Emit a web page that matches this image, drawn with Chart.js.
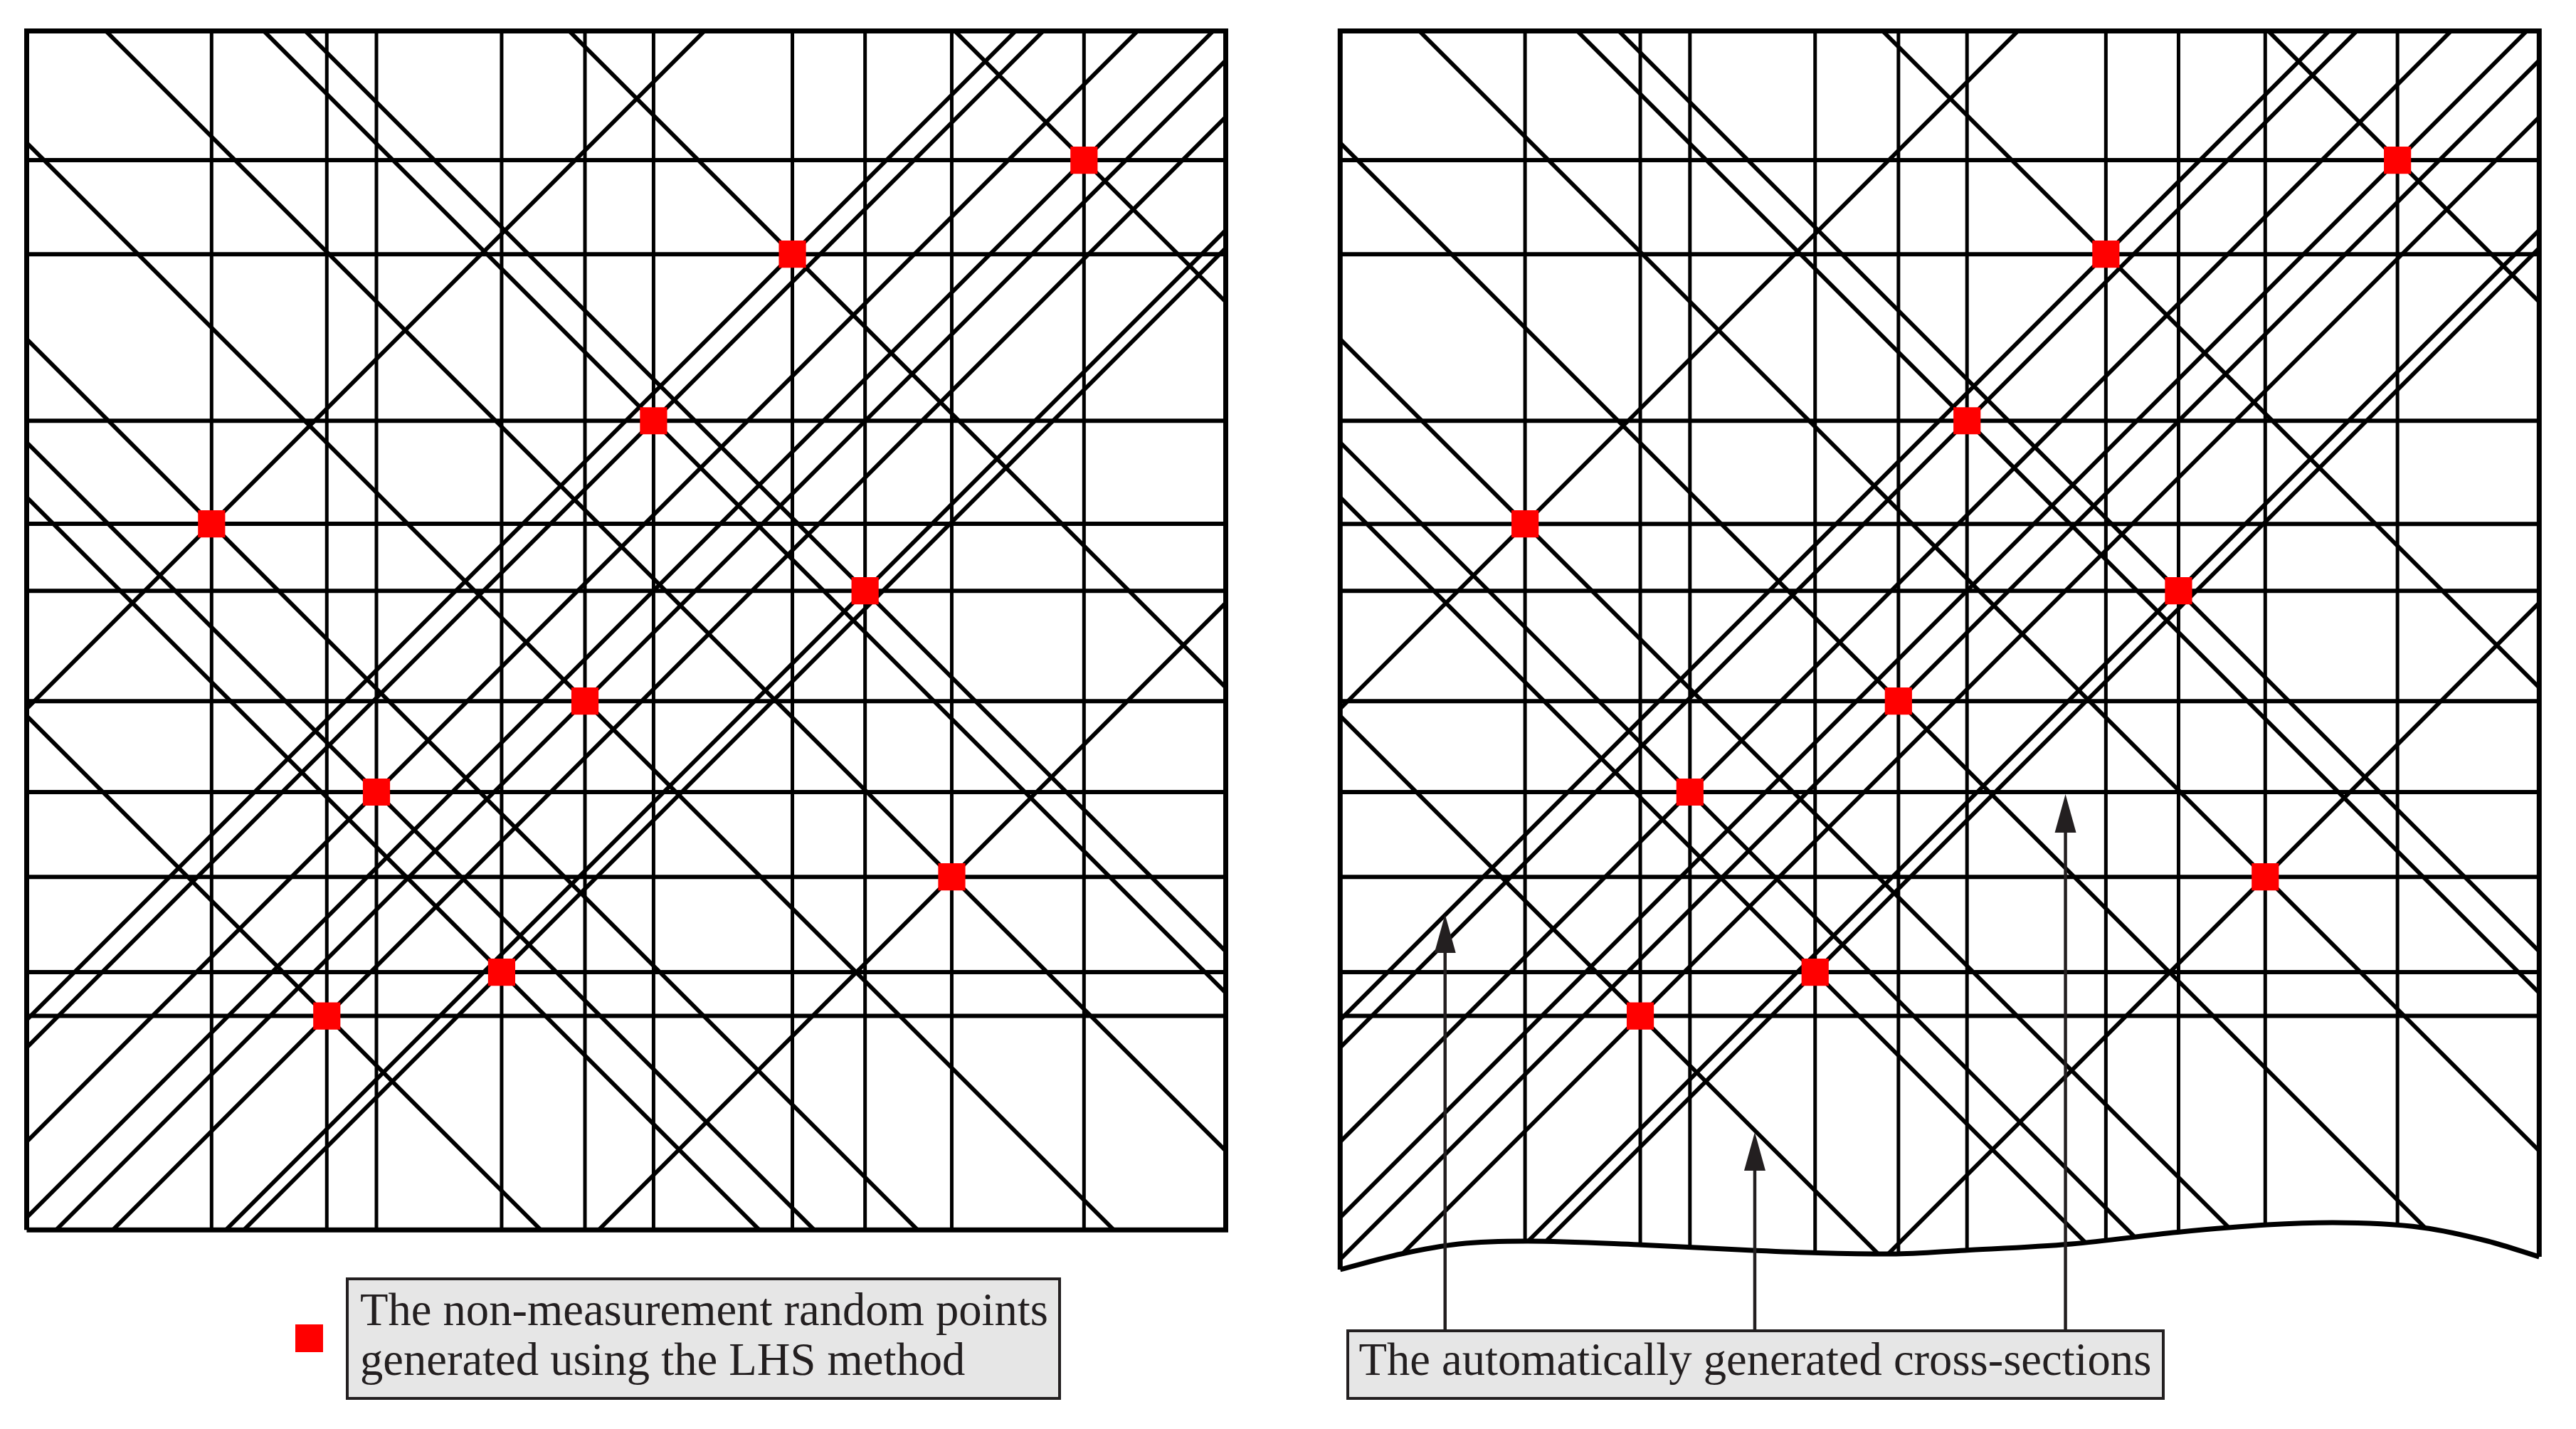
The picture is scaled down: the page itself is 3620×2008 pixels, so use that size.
<!DOCTYPE html>
<html>
<head>
<meta charset="utf-8">
<title>LHS cross-sections</title>
<script src="https://cdn.jsdelivr.net/npm/chart.js@4"></script>
<style>
    html, body { margin: 0; padding: 0; background: #fff; }
    body { position: relative; width: 3620px; height: 2008px; overflow: hidden; }
    canvas { position: absolute; left: 0; top: 0; }
    .box {
        position: absolute;
        box-sizing: border-box;
        background: #e6e6e6;
        border: 4.5px solid #231f20;
    }
    .label {
        position: absolute;
        color: #231f20;
        font-family: "Liberation Serif", serif;
        font-size: 64.6px;
        line-height: 70.6px;
        white-space: nowrap;
    }
    #swatch { position: absolute; left: 415px; top: 1861px; width: 39px; height: 39px; background: #ff0000; }
</style>
</head>
<body>
<canvas id="leftChart" width="1800" height="1780"></canvas>
<canvas id="rightChart" width="1800" height="1900" style="left:1820px"></canvas>

<div id="swatch"></div>
<div class="box" style="left:486px;top:1795px;width:1005px;height:172px"></div>
<div class="label" style="left:506px;top:1804.6px">The non-measurement random points<br>generated using the LHS method</div>
<div class="box" style="left:1892px;top:1868px;width:1150px;height:99px"></div>
<div class="label" style="left:1909.5px;top:1875px">The automatically generated cross-sections</div>

<script>
// the ten LHS points, in frame units (frame is 0..1000 both ways)
var pointX = [881.8, 638.6, 522.8, 154.2, 699.2, 465.6, 291.7, 771.5, 396.1, 250.3];
var pointY = [892.2, 813.8, 674.9, 588.9, 533.1, 441.1, 365.2, 294.5, 215.0, 178.5];

// wavy lower edge of the right panel
var edgeX = [0, 50.9, 98.9, 156.5, 248.5, 344, 398.6, 459.8, 520.9, 609.9, 698.3, 773.1, 827.7, 902.5, 957.1, 1000];
var edgeY = [-33, -20, -11.7, -9.3, -12.3, -17, -19.1, -20, -17, -11.7, -1.9, 4.3, 6.1, 2, -9.3, -22.4];

// arrows on the right panel
var arrowX = [87.5, 345.8, 604.9];
var arrowTipY = [263.1, 81.5, 363.4];
var arrowTailY = -84;

var BLACK = '#000000';
var ARROW = '#231f20';
var FAR = 1500;

// every point gets a vertical, a horizontal and both diagonals, clipped by the plot area
function sectionLines(clipBottom) {
    var sets = [];
    var clip = { left: 0, top: 0, right: 0, bottom: clipBottom };
    function add(a, b, width) {
        sets.push({ data: [a, b], showLine: true, borderColor: BLACK, borderWidth: width, pointRadius: 0, clip: clip });
    }
    pointX.forEach(function (x, i) {
        var y = pointY[i];
        add({ x: x, y: -FAR }, { x: x, y: FAR }, 5);
        add({ x: -FAR, y: y }, { x: FAR, y: y }, 6);
        add({ x: x - FAR, y: y - FAR }, { x: x + FAR, y: y + FAR }, 5.8);
        add({ x: x - FAR, y: y + FAR }, { x: x + FAR, y: y - FAR }, 5.8);
    });
    return sets;
}

function pointsSet() {
    return {
        data: pointX.map(function (x, i) { return { x: x, y: pointY[i] }; }),
        showLine: false,
        pointStyle: 'rect',
        pointRadius: 27,
        pointHoverRadius: 27,
        pointBorderWidth: 0,
        backgroundColor: '#ff0000'
    };
}

function frameSet(corners) {
    return {
        data: corners,
        showLine: true,
        borderColor: BLACK,
        borderWidth: 7,
        borderJoinStyle: 'miter',
        pointRadius: 0,
        clip: false
    };
}

function baseOptions(yMin, padding) {
    return {
        responsive: false,
        animation: false,
        // big markers would otherwise push the plot area in
        layout: { padding: padding, autoPadding: false },
        plugins: { legend: { display: false }, tooltip: { enabled: false } },
        scales: {
            x: { type: 'linear', bounds: 'data', min: 0, max: 1000, display: false },
            y: { type: 'linear', bounds: 'data', min: yMin, max: 1000, display: false }
        }
    };
}

// arrow heads, long thin triangles
var arrowHeads = {
    id: 'arrowHeads',
    afterDatasetsDraw: function (chart) {
        var ctx = chart.ctx;
        ctx.save();
        ctx.fillStyle = ARROW;
        arrowX.forEach(function (x, i) {
            var px = chart.scales.x.getPixelForValue(x);
            var py = chart.scales.y.getPixelForValue(arrowTipY[i]);
            ctx.beginPath();
            ctx.moveTo(px, py);
            ctx.lineTo(px + 15, py + 54);
            ctx.lineTo(px - 15, py + 54);
            ctx.closePath();
            ctx.fill();
        });
        ctx.restore();
    }
};

// left panel
new Chart(document.getElementById('leftChart'), {
    type: 'scatter',
    data: {
        datasets: [pointsSet(), frameSet([
            { x: 0, y: 0 }, { x: 0, y: 1000 }, { x: 1000, y: 1000 }, { x: 1000, y: 0 }, { x: 0, y: 0 }
        ])].concat(sectionLines(0))
    },
    options: baseOptions(0, { left: 37.5, top: 43.5, right: 77.5, bottom: 51.7 })
});

// right panel: same sections, cut off by the wavy edge
var arrowSets = arrowX.map(function (x, i) {
    return {
        data: [{ x: x, y: arrowTailY }, { x: x, y: arrowTipY[i] - 20 }],
        showLine: true,
        borderColor: ARROW,
        borderWidth: 4.5,
        pointRadius: 0
    };
});

var edgeSet = {
    data: edgeX.map(function (x, i) { return { x: x, y: edgeY[i] }; }),
    showLine: true,
    borderColor: BLACK,
    borderWidth: 7,
    pointRadius: 0,
    cubicInterpolationMode: 'monotone',
    fill: 'start',
    backgroundColor: '#ffffff',
    clip: false
};

new Chart(document.getElementById('rightChart'), {
    type: 'scatter',
    data: {
        datasets: [pointsSet()].concat(arrowSets, [edgeSet, frameSet([
            { x: 0, y: edgeY[0] }, { x: 0, y: 1000 }, { x: 1000, y: 1000 }, { x: 1000, y: edgeY[edgeY.length - 1] }
        ])], sectionLines(-108))
    },
    options: baseOptions(-100, { left: 63.3, top: 43.5, right: 51.7, bottom: 3.2 }),
    plugins: [arrowHeads]
});
</script>
</body>
</html>
